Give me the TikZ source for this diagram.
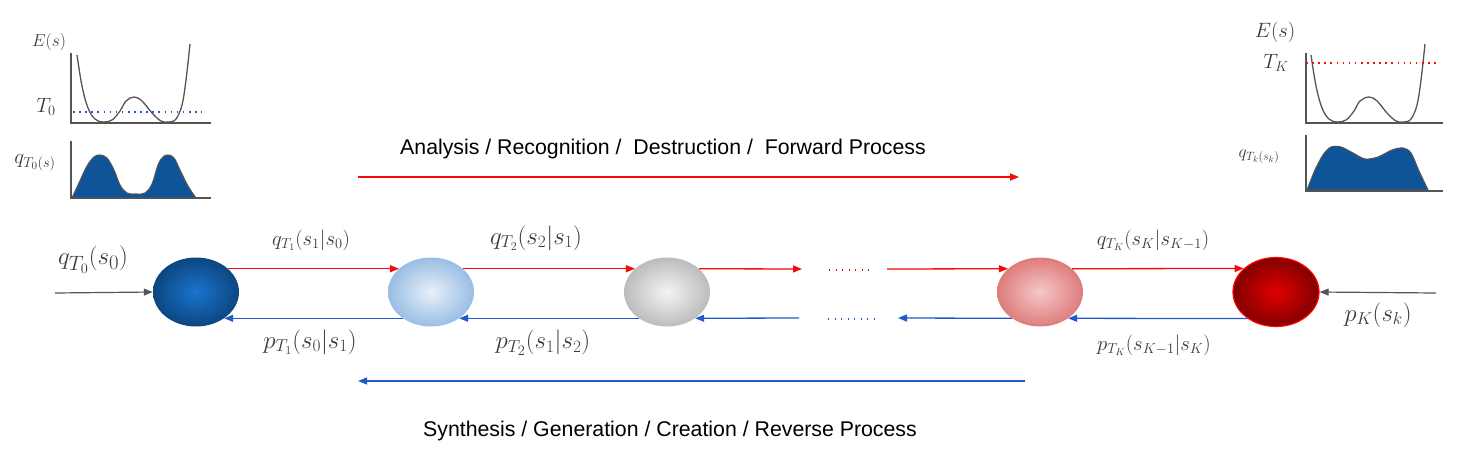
\documentclass[tikz,border=0pt]{standalone}
\usepackage{fontspec}
\setsansfont{Liberation Sans}
\usetikzlibrary{arrows.meta,shapes.geometric}
\definecolor{redA}{HTML}{F50A0A}
\definecolor{blueA}{HTML}{1F5CC8}
\definecolor{grayA}{HTML}{555555}
\definecolor{distblue}{HTML}{0F5499}
\definecolor{labgray}{HTML}{3A3A3A}
\tikzset{
  st/.style={ellipse, minimum width=86pt, minimum height=69pt, inner sep=0pt},
  fwd/.style={redA, line width=1.3pt, -{Triangle[length=9pt,width=7pt]}},
  bwd/.style={blueA, line width=1.3pt, -{Triangle[length=9pt,width=7pt]}},
  inarr/.style={grayA, line width=1.2pt, -{Triangle[length=9pt,width=7pt]}},
  lab/.style={labgray, inner sep=0pt},
  axis/.style={grayA, line width=1.2pt},
  ecurve/.style={grayA, line width=1.3pt},
  big/.style={font=\sffamily\fontsize{21.3}{24}\selectfont, text=black, inner sep=0pt}
}
\begin{document}
\begin{tikzpicture}[x=1pt,y=-1pt]
\useasboundingbox (0,0) rectangle (1462,461);
% states
\node[st, inner color={rgb,255:red,26;green,116;blue,206}, outer color={rgb,255:red,12;green,70;blue,128}] (n0) at (196,292) {};
\node[st, inner color={rgb,255:red,232;green,240;blue,249}, outer color={rgb,255:red,152;green,190;blue,228}] (n1) at (431,292) {};
\node[st, inner color={rgb,255:red,244;green,244;blue,244}, outer color={rgb,255:red,188;green,188;blue,188}] (n2) at (667,292) {};
\node[st, inner color={rgb,255:red,245;green,200;blue,200}, outer color={rgb,255:red,222;green,124;blue,124}] (n3) at (1040,292) {};
\node[st, draw=red, line width=1.2pt, inner color={rgb,255:red,225;green,0;blue,0}, outer color={rgb,255:red,130;green,0;blue,0}] (n4) at (1276,292) {};
% helper coordinates
\coordinate (fa) at (802,269);
\coordinate (fb) at (887,269);
\coordinate (ba) at (799,318);
\coordinate (bb) at (898,318);
\coordinate (rd1) at (829,270);
\coordinate (rd2) at (874,270);
\coordinate (bd1) at (828,319);
\coordinate (bd2) at (874,319);
\coordinate (inL) at (55,293);
\coordinate (inR) at (1436,293);
% forward arrows
\draw[fwd] (n0.36) -- (n1.144);
\draw[fwd] (n1.36) -- (n2.144);
\draw[fwd] (n2.36) -- (fa);
\draw[fwd] (fb) -- (n3.144);
\draw[fwd] (n3.36) -- (n4.144);
\draw[redA, line width=1.3pt, dash pattern=on 1.3pt off 5.2pt] (rd1) -- (rd2);
% backward arrows
\draw[bwd] (n1.223) -- (n0.-43);
\draw[bwd] (n2.223) -- (n1.-43);
\draw[bwd] (ba) -- (n2.-43);
\draw[bwd] (n3.223) -- (bb);
\draw[bwd] (n4.223) -- (n3.-43);
\draw[blueA, line width=1.3pt, dash pattern=on 1.3pt off 5.2pt] (bd1) -- (bd2);
% in arrows
\draw[inarr] (inL) -- (n0.west);
\draw[inarr] (inR) -- (n4.east);
% labels
\node[lab, font=\fontsize{28}{32}\selectfont] (l0) at (93,260) {$q_{T_0}(s_0)$};
\node[lab, font=\fontsize{20}{23}\selectfont] (l1) at (311,240) {$q_{T_1}(s_1|s_0)$};
\node[lab, font=\fontsize{23}{26}\selectfont] (l2) at (310,342) {$p_{T_1}(s_0|s_1)$};
\node[lab, font=\fontsize{25.5}{29}\selectfont] (l3) at (536,238) {$q_{T_2}(s_2|s_1)$};
\node[lab, font=\fontsize{27}{30}\selectfont] (l4) at (543,343) {$p_{T_2}(s_1|s_2)$};
\node[lab, font=\fontsize{20}{23}\selectfont] (l5) at (1153,240) {$q_{T_K}(s_K|s_{K-1})$};
\node[lab, font=\fontsize{20}{23}\selectfont] (l6) at (1154,345) {$p_{T_K}(s_{K-1}|s_K)$};
\node[lab, font=\fontsize{26}{29}\selectfont] (l7) at (1378,315) {$p_K(s_k)$};
% big process arrows
\coordinate (fw1) at (358,177);
\coordinate (fw2) at (1019,177);
\coordinate (bw1) at (1025,381);
\coordinate (bw2) at (358,381);
\draw[redA, line width=1.3pt, -{Triangle[length=9pt,width=7pt]}] (fw1) -- (fw2);
\draw[blueA, line width=1.3pt, -{Triangle[length=9pt,width=7pt]}] (bw1) -- (bw2);
\node[big] (tf) at (663,149) {Analysis / Recognition /\ \ Destruction /\ \ Forward Process};
\node[big] (tb) at (670,431) {Synthesis / Generation / Creation / Reverse Process};
% left inset
\draw[axis] (71,53) -- (71,123) -- (211,123);
\draw[blueA, line width=1.6pt, dash pattern=on 1.6pt off 4.5pt] (73,112) -- (202,112);
\draw[ecurve] plot[smooth, tension=0.6] coordinates {(77,55) (82,86) (88,108) (95,119) (103,122) (112,120) (120,111) (126,101) (134,97) (142,101) (152,113) (161,121) (169,122) (176,119) (182,105) (186,80) (190,44)};
\draw[axis] (71,141) -- (71,198) -- (211,198);
\fill[distblue, draw=grayA, line width=1.1pt] plot[smooth, tension=0.6] coordinates {(72,198) (79,183) (87,166) (94,157) (100,155) (107,158) (114,170) (120,185) (127,193) (136,194) (145,193) (152,184) (158,165) (163,157) (168,155) (174,158) (180,170) (188,186) (196,198)} -- cycle;
\node[lab, font=\fontsize{19}{22}\selectfont] (le) at (49,42) {$E(s)$};
\node[lab, font=\fontsize{20}{23}\selectfont] (lt) at (46,107) {$T_0$};
\node[lab, font=\fontsize{21}{24}\selectfont] (lq) at (35,163) {$q_{T_0(s)}$};
% right inset
\draw[axis] (1306,53) -- (1306,123) -- (1443,123);
\draw[ecurve] plot[smooth, tension=0.6] coordinates {(1311,55) (1316,86) (1322,108) (1329,119) (1337,122) (1346,120) (1354,111) (1360,101) (1369,97) (1377,101) (1387,113) (1396,121) (1404,122) (1411,119) (1417,105) (1421,80) (1425,44)};
\draw[redA, line width=1.6pt, dash pattern=on 1.6pt off 4.5pt] (1306,63) -- (1437,63);
\draw[axis] (1306,135) -- (1306,191) -- (1443,191);
\fill[distblue, draw=grayA, line width=1.1pt] plot[smooth, tension=0.5] coordinates {(1307,190) (1315,170) (1323,155) (1331,147) (1341,147) (1353,153) (1365,159) (1378,157) (1392,150) (1403,148) (1411,153) (1419,171) (1428,190)} -- cycle;
\node[lab, font=\fontsize{20}{23}\selectfont] (re) at (1275,32) {$E(s)$};
\node[lab, font=\fontsize{21}{24}\selectfont] (rt) at (1276,63) {$T_K$};
\node[lab, font=\fontsize{17.5}{20}\selectfont] (rq) at (1259,157) {$q_{T_k(s_k)}$};
\end{tikzpicture}
\end{document}
